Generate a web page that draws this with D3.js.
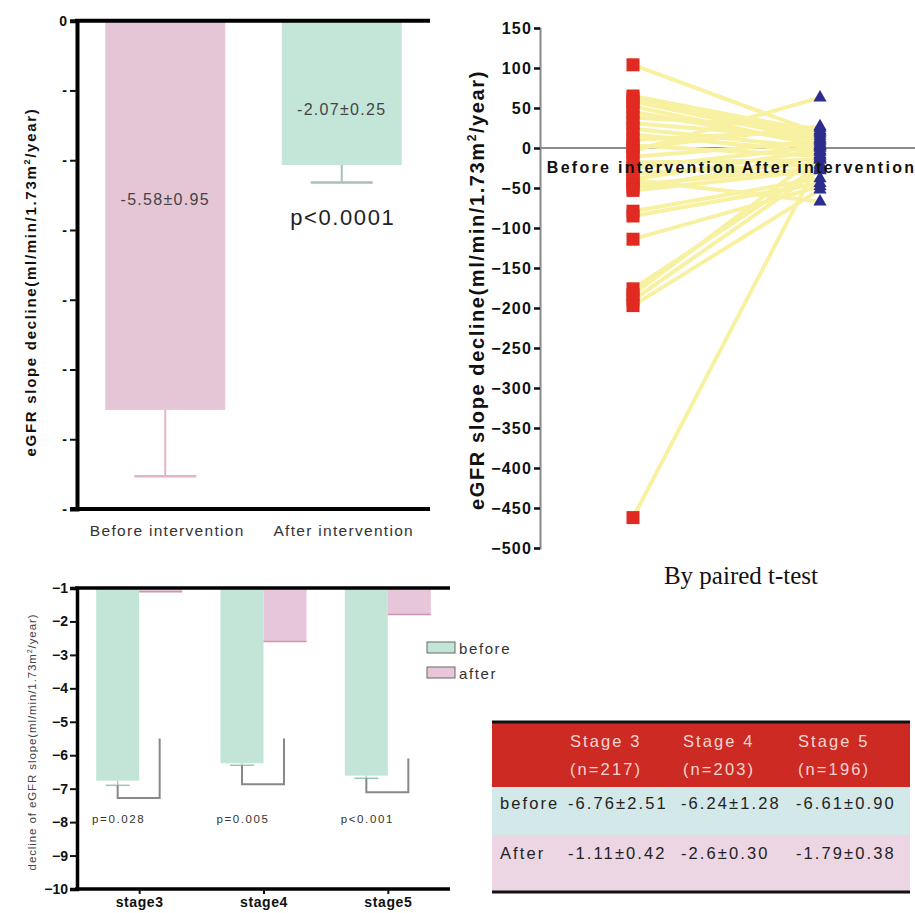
<!DOCTYPE html>
<html><head><meta charset="utf-8">
<script src="https://cdn.jsdelivr.net/npm/d3@7"></script>
<style>
html,body{margin:0;padding:0;background:#fff;}
svg{display:block;font-family:"Liberation Sans",Arial,sans-serif;}
</style></head><body>
<svg id="chart" width="915" height="913"></svg>
<script>
// ---- Panel A: overall slope before / after intervention (mean ± SE)
const groups = ["Before intervention", "After intervention"];
const groupMeans = [-5.58, -2.07];
const groupErrors = [0.95, 0.25];
const groupLabels = ["-5.58±0.95", "-2.07±0.25"];
const overallP = "p<0.0001";
const barTicks = [0, -1, -2, -3, -4, -5, -6, -7];

// ---- Panel B: paired individual slopes
const pairBefore = [104, 65, 62, 58, 52, 45, 38, 31, 24, 17, 10, 3, 0, -4, -11, -18, -25, -32, -39, -40, -46, -50, -53, -79, -85, -114, -176, -183, -190, -197, -462];
const pairAfter  = [18, 20, 15, 10, 3, 5, 25, 12, 0, -5, 22, -10, 27, 63, 8, -15, 2, -20, -3, -67, -25, -12, -28, -38, -44, -48, -22, -8, -27, -52, -14];
const pairTicks = [150, 100, 50, 0, -50, -100, -150, -200, -250, -300, -350, -400, -450, -500];
const pairTest = "By paired t-test";

// ---- Panel C: slope by CKD stage
const stages = ["stage3", "stage4", "stage5"];
const stageBefore = [-6.76, -6.24, -6.61];
const stageAfter = [-1.11, -2.6, -1.79];
const stageBeforeErr = [0.14, 0.06, 0.08];
const stagePValues = ["p=0.028", "p=0.005", "p<0.001"];
const bracketLow = [-7.28, -6.87, -7.11];
const bracketHigh = [-5.5, -5.5, -6.1];
const stageTicks = [-1, -2, -3, -4, -5, -6, -7, -8, -9, -10];
const legendKeys = ["before", "after"];

// ---- Panel D: summary table
const tableHeads = ["Stage 3", "Stage 4", "Stage 5"];
const tableCounts = ["(n=217)", "(n=203)", "(n=196)"];
const tableRows = ["before", "After"];
const tableBefore = ["-6.76±2.51", "-6.24±1.28", "-6.61±0.90"];
const tableAfter = ["-1.11±0.42", "-2.6±0.30", "-1.79±0.38"];

const svg = d3.select("#chart");
const PINK = "#e4c6d6", GREEN = "#c2e5d7";

// ================= Panel A =================
{
  const g = svg.append("g");
  const y = d3.scaleLinear().domain([0, -7]).range([20.7, 509]);
  const x = d3.scalePoint().domain(groups).range([77, 430]).padding(0.5);
  const bw = 120;
  const fills = [PINK, "#c4e6d9"];
  const errCol = ["#e2b4ca", "#a9bfba"];

  g.selectAll("rect.bar").data(groups).join("rect")
    .attr("x", d => x(d) - bw / 2).attr("width", bw)
    .attr("y", y(0)).attr("height", (d, i) => y(groupMeans[i]) - y(0))
    .attr("fill", (d, i) => fills[i]);

  groups.forEach((d, i) => {
    const lo = groupMeans[i] - groupErrors[i];
    g.append("line").attr("x1", x(d)).attr("x2", x(d))
      .attr("y1", y(groupMeans[i])).attr("y2", y(lo))
      .attr("stroke", errCol[i]).attr("stroke-width", 2);
    g.append("line").attr("x1", x(d) - 31).attr("x2", x(d) + 31)
      .attr("y1", y(lo)).attr("y2", y(lo))
      .attr("stroke", errCol[i]).attr("stroke-width", 2.5);
  });

  g.selectAll("text.val").data(groups).join("text")
    .attr("x", d => x(d))
    .attr("y", (d, i) => y(groupMeans[i]) - (i === 0 ? 205 : 50))
    .attr("text-anchor", "middle").attr("font-size", 16)
    .attr("fill", "#444").attr("letter-spacing", 1.3)
    .text((d, i) => groupLabels[i]);

  g.append("text").attr("x", x(groups[1]) + 1).attr("y", 225)
    .attr("text-anchor", "middle").attr("font-size", 22)
    .attr("fill", "#222").attr("letter-spacing", 1.6).text(overallP);

  const ax = g.append("g").attr("transform", "translate(77,0)")
    .call(d3.axisLeft(y).tickValues(barTicks).tickSize(7).tickPadding(3)
      .tickFormat(d => d === 0 ? "0" : "-"));
  ax.select(".domain").attr("stroke", "#000").attr("stroke-width", 4);
  ax.selectAll(".tick line").attr("stroke", "#111").attr("stroke-width", 2);
  ax.selectAll(".tick text").attr("font-size", 14).attr("font-weight", "bold")
    .attr("fill", "#111").attr("font-family", "Liberation Sans, Arial");

  g.append("line").attr("x1", 75).attr("x2", 430).attr("y1", y(0)).attr("y2", y(0))
    .attr("stroke", "#000").attr("stroke-width", 4);
  g.append("line").attr("x1", 70).attr("x2", 430).attr("y1", y(-7)).attr("y2", y(-7))
    .attr("stroke", "#000").attr("stroke-width", 4);

  g.selectAll("text.cat").data(groups).join("text")
    .attr("x", d => x(d) + 2).attr("y", 536)
    .attr("text-anchor", "middle").attr("font-size", 15.5)
    .attr("fill", "#333").attr("letter-spacing", 1.3).text(d => d);

  const t = g.append("text")
    .attr("transform", "translate(36,282) rotate(-90)")
    .attr("text-anchor", "middle").attr("font-size", 15).attr("font-weight", "bold")
    .attr("fill", "#111").attr("letter-spacing", 1.7);
  t.append("tspan").text("eGFR slope decline(ml/min/1.73m");
  t.append("tspan").attr("font-size", 9).attr("dy", -6).text("2");
  t.append("tspan").attr("dy", 6).text("/year)");
}

// ================= Panel B =================
{
  const g = svg.append("g");
  const y = d3.scaleLinear().domain([-500, 150]).range([548, 28]);
  const x = d3.scalePoint().domain(groups).range([633, 820]);

  g.append("line").attr("x1", 540).attr("x2", 915).attr("y1", y(0)).attr("y2", y(0))
    .attr("stroke", "#666").attr("stroke-width", 1.5);

  g.selectAll("line.pair").data(pairBefore).join("line")
    .attr("x1", x(groups[0])).attr("x2", x(groups[1]))
    .attr("y1", d => y(d)).attr("y2", (d, i) => y(pairAfter[i]))
    .attr("stroke", "#f8f1a2").attr("stroke-width", 4);

  g.selectAll("rect.pt").data(pairBefore).join("rect")
    .attr("x", x(groups[0]) - 6.5).attr("width", 13)
    .attr("y", d => y(d) - 6.5).attr("height", 13)
    .attr("fill", "#e02a22");

  const tri = d3.symbol().type(d3.symbolTriangle).size(75);
  g.selectAll("path.pt").data(pairAfter).join("path")
    .attr("d", tri)
    .attr("transform", d => `translate(${x(groups[1])},${y(d)})`)
    .attr("fill", "#2c2d8c");

  const ax = g.append("g").attr("transform", "translate(540,0)")
    .call(d3.axisLeft(y).tickValues(pairTicks).tickSize(6).tickPadding(2));
  ax.select(".domain").attr("stroke", "#888").attr("stroke-width", 2);
  ax.selectAll(".tick line").attr("stroke", "#111").attr("stroke-width", 2.5);
  ax.selectAll(".tick text").attr("font-size", 16).attr("font-weight", "bold")
    .attr("fill", "#111").attr("letter-spacing", 1.2);

  g.selectAll("text.cat").data(groups).join("text")
    .attr("x", (d, i) => x(d) + (i === 0 ? 9 : 9)).attr("y", y(0) + 25)
    .attr("text-anchor", "middle").attr("font-size", 16).attr("font-weight", "bold")
    .attr("fill", "#111").attr("letter-spacing", 2.3).text(d => d);

  const t = g.append("text")
    .attr("transform", "translate(484,290) rotate(-90)")
    .attr("text-anchor", "middle").attr("font-size", 20).attr("font-weight", "bold")
    .attr("fill", "#111").attr("letter-spacing", 1.6);
  t.append("tspan").text("eGFR slope decline(ml/min/1.73m");
  t.append("tspan").attr("font-size", 12).attr("dy", -8).text("2");
  t.append("tspan").attr("dy", 8).text("/year)");

  g.append("text").attr("x", 741).attr("y", 584).attr("text-anchor", "middle")
    .attr("font-family", "Liberation Serif, Times New Roman, serif")
    .attr("font-size", 25).attr("fill", "#111").text(pairTest);
}

// ================= Panel C =================
{
  const g = svg.append("g");
  const y = d3.scaleLinear().domain([-1, -10]).range([588, 889]);
  const x = d3.scalePoint().domain(stages).range([77, 450]).padding(0.5);
  const bw = 43;

  g.selectAll("rect.bef").data(stages).join("rect")
    .attr("x", d => x(d) - bw).attr("width", bw)
    .attr("y", y(-1)).attr("height", (d, i) => y(stageBefore[i]) - y(-1))
    .attr("fill", GREEN);
  g.selectAll("rect.aft").data(stages).join("rect")
    .attr("x", d => x(d)).attr("width", bw)
    .attr("y", y(-1)).attr("height", (d, i) => y(stageAfter[i]) - y(-1))
    .attr("fill", "#e6c6d8");
  g.selectAll("line.aftEdge").data(stages).join("line")
    .attr("x1", d => x(d)).attr("x2", d => x(d) + bw)
    .attr("y1", (d, i) => y(stageAfter[i])).attr("y2", (d, i) => y(stageAfter[i]))
    .attr("stroke", "#cf93b3").attr("stroke-width", 1.5);

  stages.forEach((d, i) => {
    const cx = x(d) - bw / 2, ax2 = x(d) + bw / 2 - 1;
    const lo = stageBefore[i] - stageBeforeErr[i];
    g.append("line").attr("x1", cx).attr("x2", cx)
      .attr("y1", y(stageBefore[i])).attr("y2", y(lo))
      .attr("stroke", "#a9cfc2").attr("stroke-width", 1.5);
    g.append("line").attr("x1", cx - 12).attr("x2", cx + 12)
      .attr("y1", y(lo)).attr("y2", y(lo))
      .attr("stroke", "#9cc4b8").attr("stroke-width", 1.5);
    g.append("path")
      .attr("d", `M${cx},${y(lo)}V${y(bracketLow[i])}H${ax2}V${y(bracketHigh[i])}`)
      .attr("fill", "none").attr("stroke", "#888").attr("stroke-width", 2);
    g.append("text").attr("x", cx + 1).attr("y", y(-7.9) + 4)
      .attr("text-anchor", "middle").attr("font-size", 11.5)
      .attr("fill", "#333").attr("letter-spacing", 1.6).text(stagePValues[i]);
  });

  const ax = g.append("g").attr("transform", "translate(77,0)")
    .call(d3.axisLeft(y).tickValues(stageTicks).tickSize(7).tickPadding(2));
  ax.select(".domain").attr("stroke", "#000").attr("stroke-width", 3.5);
  ax.selectAll(".tick line").attr("stroke", "#111").attr("stroke-width", 2);
  ax.selectAll(".tick text").attr("font-size", 14).attr("font-weight", "bold").attr("fill", "#111");

  g.append("line").attr("x1", 75).attr("x2", 450).attr("y1", y(-1)).attr("y2", y(-1))
    .attr("stroke", "#000").attr("stroke-width", 3.5);
  const bx = g.append("g").attr("transform", `translate(0,${y(-10)})`)
    .call(d3.axisBottom(x).tickSize(5).tickPadding(3));
  bx.select(".domain").attr("stroke", "#000").attr("stroke-width", 3.5)
    .attr("d", "M75,0H450");
  bx.selectAll(".tick line").attr("stroke", "#111").attr("stroke-width", 2);
  bx.selectAll(".tick text").attr("font-size", 14).attr("font-weight", "bold")
    .attr("fill", "#111").attr("letter-spacing", 0.6);

  const t = g.append("text")
    .attr("transform", "translate(36,742) rotate(-90)")
    .attr("text-anchor", "middle").attr("font-size", 11.5).attr("fill", "#444")
    .attr("letter-spacing", 0.9);
  t.append("tspan").text("decline of eGFR slope(ml/min/1.73m");
  t.append("tspan").attr("font-size", 7).attr("dy", -4).text("2");
  t.append("tspan").attr("dy", 4).text("/year)");

  const lg = g.append("g");
  legendKeys.forEach((k, i) => {
    lg.append("rect").attr("x", 427).attr("y", 642 + i * 25).attr("width", 28).attr("height", 11)
      .attr("fill", i === 0 ? GREEN : "#e6c6d8").attr("stroke", "#666").attr("stroke-width", 1);
    lg.append("text").attr("x", 459).attr("y", 654 + i * 25).attr("font-size", 15)
      .attr("fill", "#333").attr("letter-spacing", 1.6).text(k);
  });
}

// ================= Panel D: table =================
{
  const g = svg.append("g");
  const x0 = 492, x1 = 910;
  const colX = [570, 683, 798];
  g.append("rect").attr("x", x0).attr("y", 722).attr("width", x1 - x0).attr("height", 65).attr("fill", "#cc2a22");
  g.append("rect").attr("x", x0).attr("y", 787).attr("width", x1 - x0).attr("height", 48).attr("fill", "#d3e8e8");
  g.append("rect").attr("x", x0).attr("y", 835).attr("width", x1 - x0).attr("height", 57).attr("fill", "#ecd6e4");
  g.append("line").attr("x1", x0).attr("x2", x1).attr("y1", 722).attr("y2", 722).attr("stroke", "#111").attr("stroke-width", 3);
  g.append("line").attr("x1", x0).attr("x2", x1).attr("y1", 892).attr("y2", 892).attr("stroke", "#111").attr("stroke-width", 3);

  const txt = (x, yy, s, fill) => g.append("text").attr("x", x).attr("y", yy)
    .attr("font-size", 16.5).attr("fill", fill).attr("letter-spacing", 2.1).text(s);
  tableHeads.forEach((h, i) => {
    txt(colX[i], 747, h, "#f6d6d2");
    txt(colX[i], 775, tableCounts[i], "#f6d6d2");
  });
  txt(500, 809, tableRows[0], "#222");
  txt(500, 859, tableRows[1], "#222");
  tableBefore.forEach((v, i) => txt(colX[i] - 2, 809, v, "#222"));
  tableAfter.forEach((v, i) => txt(colX[i] - 2, 859, v, "#222"));
}
</script>
</body></html>
